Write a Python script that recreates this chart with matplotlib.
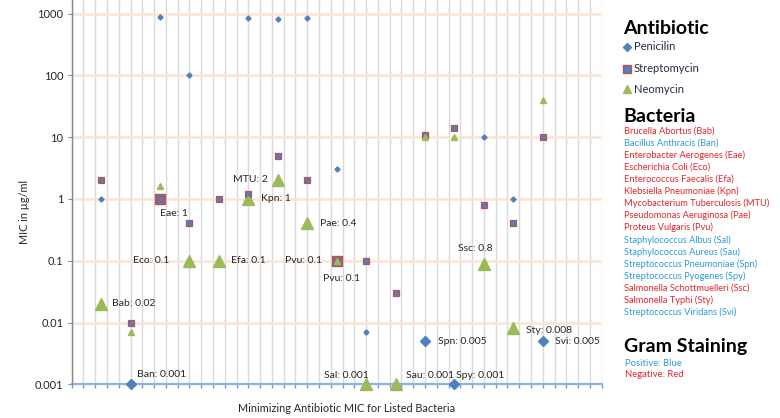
import matplotlib
matplotlib.use("Agg")
import matplotlib.pyplot as plt
from matplotlib.lines import Line2D
import numpy as np

plt.rcParams['font.family'] = ['Lato', 'DejaVu Sans']

# ---------------- data ----------------
abbr = ["Bab", "Ban", "Eae", "Eco", "Efa", "Kpn", "MTU", "Pae",
        "Pvu", "Sal", "Sau", "Spn", "Spy", "Ssc", "Sty", "Svi"]
names = ["Brucella Abortus", "Bacillus Anthracis", "Enterobacter Aerogenes",
         "Escherichia Coli", "Enterococcus Faecalis", "Klebsiella Pneumoniae",
         "Mycobacterium Tuberculosis", "Pseudomonas Aeruginosa", "Proteus Vulgaris",
         "Staphylococcus Albus", "Staphylococcus Aureus", "Streptococcus Pneumoniae",
         "Streptococcus Pyogenes", "Salmonella Schottmuelleri", "Salmonella Typhi",
         "Streptococcus Viridans"]
gram = ["neg", "pos", "neg", "neg", "neg", "neg", "neg", "neg",
        "neg", "pos", "pos", "pos", "pos", "neg", "neg", "pos"]
penicilin    = [1, 0.001, 870, 100, 1, 850, 800, 850, 3, 0.007, 0.03, 0.005, 0.001, 10, 1, 0.005]
streptomycin = [2, 0.01, 1, 0.4, 1, 1.2, 5, 2, 0.1, 0.1, 0.03, 11, 14, 0.8, 0.4, 10]
neomycin     = [0.02, 0.007, 1.6, 0.1, 0.1, 1, 2, 0.4, 0.1, 0.001, 0.001, 10, 10, 0.09, 0.008, 40]
# minimizing antibiotic per bacterium (P, S, N) -> drawn with a big marker
minimizing = ["N", "P", "S", "N", "N", "N", "N", "N",
              "S", "N", "N", "P", "P", "N", "N", "P"]
# data label texts as shown on the chart
label_texts = [["Bab: 0.02"], ["Ban: 0.001"], ["Eae: 1"], ["Eco: 0.1"], ["Efa: 0.1"],
               ["Kpn: 1"], ["MTU: 2"], ["Pae: 0.4"], ["Pvu: 0.1", "Pvu: 0.1"],
               ["Sal: 0.001"], ["Sau: 0.001"], ["Spn: 0.005"], ["Spy: 0.001"],
               ["Ssc: 0.8"], ["Sty: 0.008"], ["Svi: 0.005"]]
yticks = [0.001, 0.01, 0.1, 1, 10, 100, 1000]
ytick_labels = ["0.001", "0.01", "0.1", "1", "10", "100", "1000"]

# ---------------- style ----------------
PEN = "#4F81BD"
STREP_EDGE = "#C0504D"
NEO = "#9BBB59"
RED = "#E3262E"
BLUE = "#2E9AD6"
# label offsets in pixels (dx, dy up), horizontal alignment
label_style = {
    "Bab": [(11, 0, "left")], "Ban": [(6, 10, "left")], "Eae": [(0, -15, "left")],
    "Eco": [(-20, 0, "right")], "Efa": [(12, 0, "left")], "Kpn": [(13, 0, "left")],
    "MTU": [(-10, 1, "right")], "Pae": [(13, 0, "left")],
    "Pvu": [(-15, 0, "right"), (-14, -18, "left")],
    "Sal": [(3, 9, "right")], "Sau": [(10, 9, "left")], "Spn": [(13, 0, "left")],
    "Spy": [(2, 9, "left")], "Ssc": [(-26, 15, "left")], "Sty": [(13, -2, "left")],
    "Svi": [(12, 0, "left")],
}

W, H = 780, 418
fig = plt.figure(figsize=(W / 100, H / 100), dpi=100)
L, R, B, T = 71.7, 601.7, 384.3, 0
ax = fig.add_axes([L / W, (H - B) / H, (R - L) / W, (B - T) / H])

x = np.arange(1, len(abbr) + 1)
ax.set_yscale("log")
ax.set_xlim(0, 18)
ax.set_ylim(0.001, 10 ** (-3 + (B - T) / 61.8))

# grid
for gx in np.arange(0, 18.001, 0.4):
    ax.axvline(gx, color="#D9D9D9", lw=1.0, zorder=0)
for gy in yticks[1:]:
    ax.axhline(gy, color="#FCE4D2", lw=1.8, zorder=0.5)

series = {"P": penicilin, "S": streptomycin, "N": neomycin}
big_style = {
    "N": dict(marker="^", ms=8, color=NEO, mec=NEO),
    "S": dict(marker="s", ms=6.8, color=PEN, mec=STREP_EDGE, mew=1.0),
    "P": dict(marker="D", ms=5.6, color=PEN, mec=PEN),
}
for key in ["N", "S", "P"]:
    idx = [i for i in range(len(abbr)) if minimizing[i] == key]
    ax.plot(x[idx], [series[key][i] for i in idx], ls="none", zorder=3,
            clip_on=False, **big_style[key])

ax.plot(x, penicilin, ls="none", marker="D", ms=2.6, color=PEN, zorder=4, clip_on=False)
ax.plot(x, streptomycin, ls="none", marker="s", ms=4.0, color=PEN, mec=STREP_EDGE,
        mew=0.9, zorder=5, clip_on=False)
ax.plot(x, neomycin, ls="none", marker="^", ms=3.8, color=NEO, zorder=6, clip_on=False)

# data labels
for i, a in enumerate(abbr):
    yv = series[minimizing[i]][i]
    for j, txt in enumerate(label_texts[i]):
        dx, dy, ha = label_style[a][j]
        ax.annotate(txt, (x[i], yv), xytext=(dx * 0.72, dy * 0.72),
                    textcoords="offset points", ha=ha, va="center",
                    fontsize=7.5, color="#262626", zorder=7)

# axes styling
for s in ["top", "right"]:
    ax.spines[s].set_visible(False)
ax.spines["left"].set_color("#868686")
ax.spines["left"].set_linewidth(1.0)
ax.spines["bottom"].set_color("#8DB3E2")
ax.spines["bottom"].set_linewidth(1.6)
ax.spines["bottom"].set_zorder(2)
ax.set_xticks(np.arange(0, 18.001, 0.4))
ax.set_xticklabels([])
ax.tick_params(axis="x", which="major", length=3, width=1.0, color="#6F97CF")
ax.set_yticks(yticks)
ax.set_yticklabels(ytick_labels)
ax.yaxis.set_minor_locator(matplotlib.ticker.NullLocator())
ax.tick_params(axis="y", which="major", length=3, width=0.8, color="#868686",
               labelsize=8, labelcolor="#262626", pad=3)

fig.text(25 / W, 1 - 212 / H, "MIC in µg/ml", rotation=90, ha="center", va="center",
         fontsize=7.8, color="#262626")
fig.text(347 / W, 1 - 408 / H, "Minimizing Antibiotic MIC for Listed Bacteria",
         ha="center", va="center", fontsize=7.8, color="#262626")

# ---------------- right-hand legend ----------------
def ft(px, py, s, **kw):
    fig.text(px / W, 1 - py / H, s, va="center", ha="left", **kw)

ft(623, 28, "Antibiotic", fontsize=14, fontweight="bold", color="black")
leg = [("Penicilin", dict(marker="D", ms=4.2, color=PEN, mec=PEN), 46.7),
       ("Streptomycin", dict(marker="s", ms=5.5, color=PEN, mec=STREP_EDGE, mew=1.0), 69),
       ("Neomycin", dict(marker="^", ms=6, color=NEO, mec=NEO), 89.3)]
for lab, st, py in leg:
    fig.add_artist(Line2D([626.7 / W], [1 - py / H], transform=fig.transFigure,
                          ls="none", **st))
    ft(634, py, lab, fontsize=8, color="#1F2A44")

ft(623, 116, "Bacteria", fontsize=14, fontweight="bold", color="black")
y0 = 131.3
for i, (n, a, g) in enumerate(zip(names, abbr, gram)):
    ft(624, y0 + i * 12.05, f"{n} ({a})", fontsize=6.7,
       color=BLUE if g == "pos" else RED)

ft(624, 346.7, "Gram Staining", fontsize=14, fontweight="bold", color="black")
ft(625, 363.3, "Positive: Blue", fontsize=6.8, color=BLUE)
ft(625, 374.8, "Negative: Red", fontsize=6.8, color=RED)

fig.savefig("out.png", dpi=100)
